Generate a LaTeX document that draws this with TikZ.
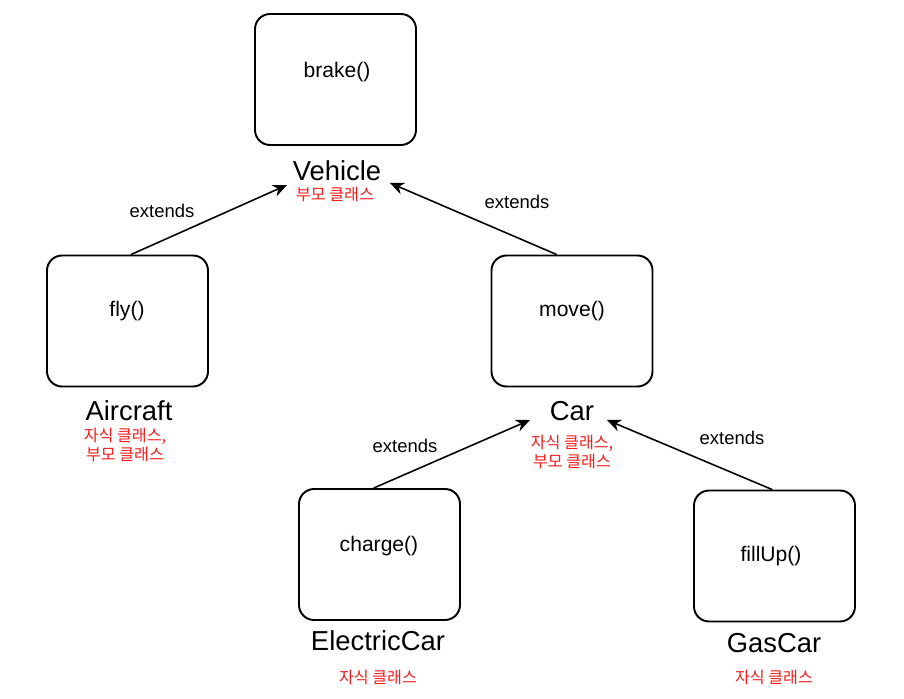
\documentclass[tikz,border=0pt]{standalone}
\usepackage{fontspec}
\setmainfont{Liberation Sans}
\newfontfamily\krfont{Noto Sans CJK KR}
\usetikzlibrary{arrows.meta,positioning}
\definecolor{rolered}{RGB}{240,30,30}

\begin{document}
\begin{tikzpicture}[x=0.02cm,y=-0.02cm,
    classbox/.style={draw,line width=1.1pt,rounded corners=0.3cm,minimum width=3.22cm,minimum height=2.62cm},
    method/.style={font=\fontsize{12}{14}\selectfont},
    classname/.style={font=\fontsize{15.6}{18}\selectfont},
    role/.style={text=rolered,font=\fontsize{9.2}{11}\krfont,align=center},
    ext/.style={-{Stealth[length=8pt,width=7pt]},line width=0.9pt},
    extlabel/.style={font=\fontsize{10.5}{12}\selectfont}]
          \useasboundingbox (0,0) rectangle (904,699);

          % Vehicle
          \node[classbox] (vehiclebox) at (335.5, 79.5) {};
          \node[method] (brake) at (337, 72) {brake()};
          \node[classname] (vehicle) at (337, 171) {Vehicle};
          \node[role] (vehiclerole) at (335, 194) {부모 클래스};

          % Aircraft
          \node[classbox] (aircraftbox) at (127.5, 321) {};
          \node[method] (fly) at (127, 311) {fly()};
          \node[classname] (aircraft) at (129, 411) {Aircraft};
          \node[role] (aircraftrole) at (125, 445) {자식 클래스,\\부모 클래스};

          % Car
          \node[classbox] (carbox) at (572, 321) {};
          \node[method] (move) at (572, 311) {move()};
          \node[classname] (car) at (572, 411) {Car};
          \node[role] (carrole) at (572, 452) {자식 클래스,\\부모 클래스};

          % ElectricCar
          \node[classbox] (electricbox) at (379.5, 554.5) {};
          \node[method] (charge) at (379, 546) {charge()};
          \node[classname] (electric) at (378, 641) {ElectricCar};
          \node[role] (electricrole) at (378, 677) {자식 클래스};

          % GasCar
          \node[classbox] (gasbox) at (774.5, 556) {};
          \node[method] (fillup) at (771, 556) {fillUp()};
          \node[classname] (gas) at (774, 643) {GasCar};
          \node[role] (gasrole) at (774, 677) {자식 클래스};

          % arrow tips
          \coordinate (vehicleL) at (287, 185);
          \coordinate (vehicleR) at (390, 183);
          \coordinate (carL) at (530, 420);
          \coordinate (carR) at (607, 420);

          \draw[ext] (aircraftbox.87) -- (vehicleL);
          \draw[ext] (carbox.103) -- (vehicleR);
          \draw[ext] (electricbox.95) -- (carL);
          \draw[ext] (gasbox.92) -- (carR);

          \node[extlabel] at (162, 211) {extends};
          \node[extlabel] at (517, 202) {extends};
          \node[extlabel] at (405, 446) {extends};
          \node[extlabel] at (732, 438) {extends};
        \end{tikzpicture}
\end{document}
